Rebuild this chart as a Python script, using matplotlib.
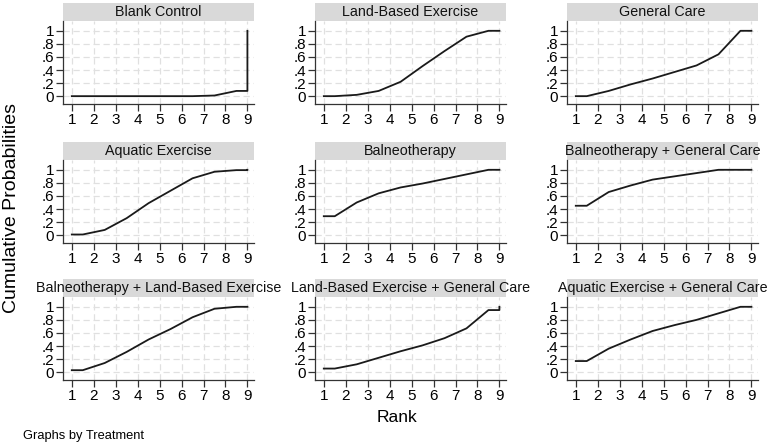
import matplotlib
matplotlib.use("Agg")
import matplotlib.pyplot as plt
from matplotlib.patches import Rectangle
import numpy as np

plt.rcParams['font.family'] = ['Liberation Sans', 'DejaVu Sans']

# cumulative rank probabilities
ranks = [1, 2, 3, 4, 5, 6, 7, 8, 9]
treatments = ['Blank Control', 'Land-Based Exercise', 'General Care',
              'Aquatic Exercise', 'Balneotherapy', 'Balneotherapy + General Care',
              'Balneotherapy + Land-Based Exercise', 'Land-Based Exercise + General Care',
              'Aquatic Exercise + General Care']
blank_control = [0, 0, 0, 0, 0, 0, 0.01, 0.08, 1.0]
land_based = [0, 0.02, 0.08, 0.22, 0.46, 0.69, 0.91, 1.0, 1.0]
general_care = [0, 0.08, 0.18, 0.27, 0.37, 0.47, 0.64, 1.0, 1.0]
aquatic = [0.01, 0.08, 0.26, 0.49, 0.68, 0.87, 0.97, 0.995, 1.0]
balneo = [0.29, 0.50, 0.64, 0.73, 0.79, 0.86, 0.93, 1.0, 1.0]
balneo_gc = [0.45, 0.66, 0.76, 0.85, 0.90, 0.95, 1.0, 1.0, 1.0]
balneo_land = [0.03, 0.14, 0.31, 0.50, 0.66, 0.84, 0.97, 1.0, 1.0]
land_gc = [0.055, 0.12, 0.22, 0.32, 0.41, 0.52, 0.67, 0.95, 1.0]
aquatic_gc = [0.17, 0.36, 0.50, 0.63, 0.72, 0.80, 0.90, 1.0, 1.0]
series = [blank_control, land_based, general_care, aquatic, balneo, balneo_gc,
          balneo_land, land_gc, aquatic_gc]
yticks = [0, 0.2, 0.4, 0.6, 0.8, 1]
ytick_labels = ['0', '.2', '.4', '.6', '.8', '1']

W, H = 767, 448
fig = plt.figure(figsize=(W / 100, H / 100), dpi=100)

col_left = [63, 315, 567]
row_top = [21, 160, 297]
ax_w, ax_h = 191, 83
strip_h = 18

r = np.array(ranks, dtype=float)
for i, (name, cum) in enumerate(zip(treatments, series)):
    row, col = divmod(i, 3)
    ax = fig.add_axes([col_left[col] / W, 1 - (row_top[row] + ax_h) / H, ax_w / W, ax_h / H])
    c = np.array(cum)
    # Stata-style path: hold first value to 1.5, midpoints, then end at last rank
    xs = np.concatenate([[r[0]], r[:-1] + 0.5, [r[-1], r[-1]]])
    ys = np.concatenate([[c[0]], c[:-1], [c[-2], c[-1]]])
    ax.plot(xs, ys, color='#1a1a1a', linewidth=1.3)

    ax.set_xlim(0.6, 9.3)
    ax.set_ylim(-0.12, 1.15)
    ax.set_xticks(ranks)
    ax.set_yticks(yticks)
    ax.set_yticklabels(ytick_labels)
    ax.tick_params(labelsize=11, length=5, width=0.9, color='#333333', pad=1.5)
    ax.grid(True, color='#e0e0e0', linestyle=(0, (5, 3)), linewidth=0.9)
    ax.set_axisbelow(True)
    for s in ['top', 'right']:
        ax.spines[s].set_visible(False)
    for s in ['left', 'bottom']:
        ax.spines[s].set_color('#333333')
        ax.spines[s].set_linewidth(0.9)

    hf = strip_h / ax_h
    ax.add_patch(Rectangle((0, 1), 1, hf, transform=ax.transAxes, clip_on=False,
                           facecolor='#d9d9d9', edgecolor='none'))
    ax.text(0.5, 1 + hf / 2, name, transform=ax.transAxes, ha='center', va='center',
            fontsize=10.3, color='#111111')

fig.text(12 / W, 1 - 208 / H, 'Cumulative Probabilities', rotation=90,
         ha='center', va='center', fontsize=14)
fig.text(397 / W, 1 - 417 / H, 'Rank', ha='center', va='center', fontsize=12.5)
fig.text(23 / W, 1 - 436 / H, 'Graphs by Treatment', ha='left', va='center', fontsize=9.3)

fig.savefig('out.png', dpi=100)
